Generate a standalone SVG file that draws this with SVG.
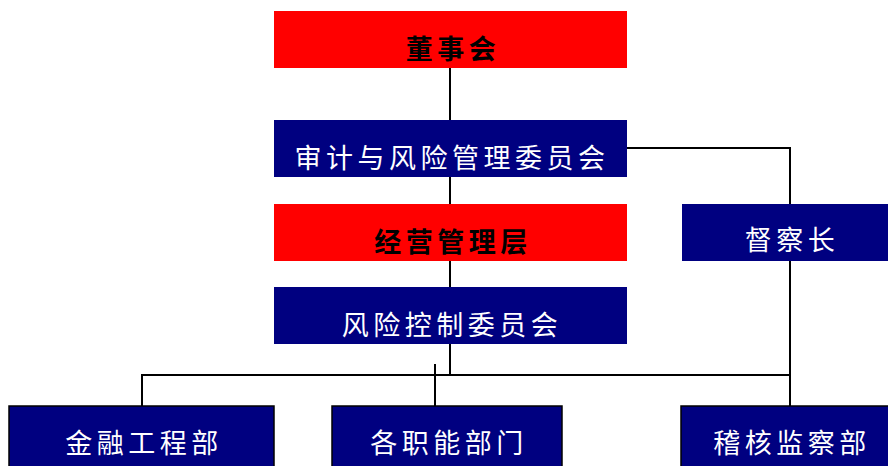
<svg xmlns="http://www.w3.org/2000/svg" width="888" height="466" viewBox="0 0 888 466">
<style>
.red{fill:#ff0000}
.navy{fill:#000080}
.bot{fill:#000080;stroke:#000;stroke-width:1.5}
.t{font-family:"Noto Sans CJK SC","Noto Sans",sans-serif;font-size:27px;letter-spacing:4.5px;text-anchor:middle}
.tb{fill:#000;font-weight:bold}
.tw{fill:#fff}
.ln{fill:none;stroke:#000;stroke-width:2}
</style>
<rect width="888" height="466" fill="#fff"/>
<g id="connectors">
<path class="ln" d="M450 68V120M450 177V204M450 261V287M450 344V375"/>
<path class="ln" d="M627 148H790V204M790 261V406"/>
<path class="ln" d="M142 406V375H790"/>
<path class="ln" d="M435 364V406" stroke-width="1.5"/>
</g>
<g id="board">
<rect class="red" x="274" y="11" width="353" height="57"/>
<text class="t tb" x="453" y="59">董事会</text>
</g>
<g id="audit-risk-committee">
<rect class="navy" x="274" y="120" width="353" height="57"/>
<text class="t tw" x="452" y="168">审计与风险管理委员会</text>
</g>
<g id="management">
<rect class="red" x="274" y="204" width="353" height="57"/>
<text class="t tb" x="453" y="252">经营管理层</text>
</g>
<g id="chief-inspector">
<rect class="navy" x="682" y="204" width="216" height="57"/>
<text class="t tw" x="792" y="250">督察长</text>
</g>
<g id="risk-control-committee">
<rect class="navy" x="274" y="287" width="353" height="57"/>
<text class="t tw" x="452" y="335">风险控制委员会</text>
</g>
<g id="financial-engineering">
<rect class="bot" x="9" y="406" width="265" height="70"/>
<text class="t tw" x="144" y="453">金融工程部</text>
</g>
<g id="functional-departments">
<rect class="bot" x="332" y="406" width="230" height="70"/>
<text class="t tw" x="449" y="453">各职能部门</text>
</g>
<g id="audit-inspection">
<rect class="bot" x="681" y="406" width="217" height="70"/>
<text class="t tw" x="792" y="453">稽核监察部</text>
</g>
</svg>
